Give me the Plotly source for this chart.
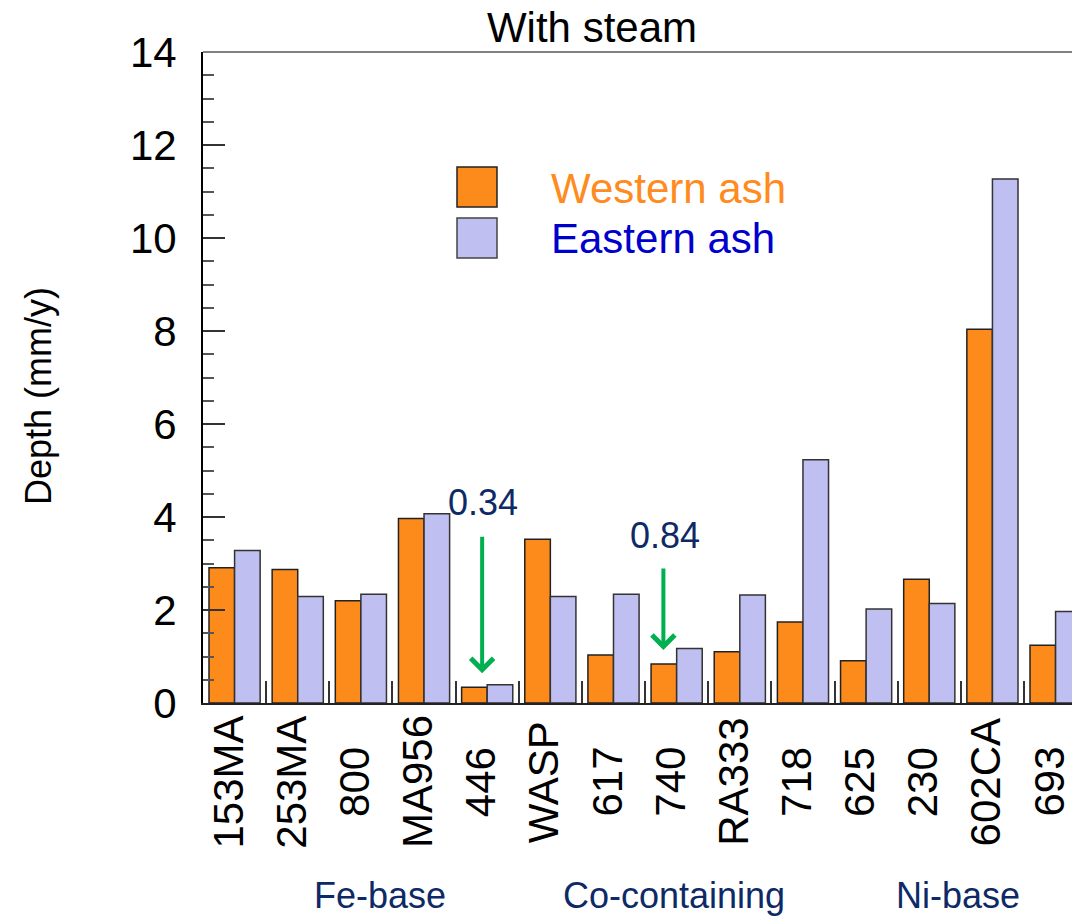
import plotly.graph_objects as go

# Alloy categories and corrosion depth (mm/y) with steam
alloys = ["153MA", "253MA", "800", "MA956", "446", "WASP", "617", "740",
          "RA333", "718", "625", "230", "602CA", "693"]
western_ash = [2.91, 2.87, 2.20, 3.97, 0.34, 3.52, 1.03, 0.84, 1.10, 1.74, 0.91, 2.66, 8.04, 1.24]
eastern_ash = [3.28, 2.29, 2.34, 4.07, 0.39, 2.29, 2.34, 1.17, 2.32, 5.23, 2.02, 2.14, 11.27, 1.97]

y_ticks = [0, 2, 4, 6, 8, 10, 12, 14]

# Alloy families and the label position (in category units) under each group
groups = ["Fe-base", "Co-containing", "Ni-base"]
group_pos = [2.30, 6.95, 11.45]

# Called-out values: (alloy index, text, arrow x, arrow tip y, text x, text y, arrow length px)
callouts = [
    (4, "0.34", 3.92, 0.64, 3.93, 4.32, 138),
    (7, "0.84", 6.79, 1.14, 6.82, 3.61, 83),
]

FONT = "Liberation Sans, Arial, sans-serif"
ORANGE = "#FD8B1C"
LAVENDER = "#BFBFF1"
NAVY = "#0E2A66"
GREEN = "#00B050"

W, H = 1072, 921
ML, MT, MB, MR = 203, 52, 218, 0
PW, PH = W - ML - MR, H - MT - MB


def px_x(px):
    return (px - ML) / PW


def px_y(py):
    return (H - MB - py) / PH


idx = list(range(len(alloys)))

fig = go.Figure()
fig.add_trace(go.Bar(x=idx, y=western_ash, name="Western ash",
                     marker=dict(color=ORANGE, line=dict(color="#222222", width=1.5))))
fig.add_trace(go.Bar(x=idx, y=eastern_ash, name="Eastern ash",
                     marker=dict(color=LAVENDER, line=dict(color="#333333", width=1.5))))

annotations = []

# Category labels, rotated and centred under each bar pair
for i, a in zip(idx, alloys):
    annotations.append(dict(x=i, y=px_y(782), xref="x", yref="paper", text=a,
                            textangle=-90, showarrow=False, xanchor="center",
                            yanchor="middle", xshift=-7,
                            font=dict(family=FONT, size=42, color="black")))

# Group labels
for g, p in zip(groups, group_pos):
    annotations.append(dict(x=p, y=px_y(896), xref="x", yref="paper", text=g,
                            showarrow=False, xanchor="center", yanchor="middle",
                            font=dict(family=FONT, size=36, color=NAVY)))

# Value call-outs with green arrows
for _, txt, axx, tipy, tx, ty, alen in callouts:
    annotations.append(dict(x=axx, y=tipy, xref="x", yref="y", text="",
                            showarrow=True, arrowhead=4, arrowsize=1.1, arrowwidth=4,
                            arrowcolor=GREEN, ax=0, ay=-alen, standoff=0))
    annotations.append(dict(x=tx, y=ty, xref="x", yref="y", text=txt,
                            showarrow=False, xanchor="center", yanchor="middle",
                            font=dict(family=FONT, size=36, color=NAVY)))

# Legend text
annotations.append(dict(x=px_x(549), y=px_y(188), xref="paper", yref="paper",
                        text="Western ash", showarrow=False, xanchor="left",
                        yanchor="middle", font=dict(family=FONT, size=42, color="#FF8A1E")))
annotations.append(dict(x=px_x(549), y=px_y(238), xref="paper", yref="paper",
                        text="Eastern ash", showarrow=False, xanchor="left",
                        yanchor="middle", font=dict(family=FONT, size=42, color="#0000CC")))

# Y axis title
annotations.append(dict(x=px_x(38), y=px_y(396), xref="paper", yref="paper",
                        text="Depth (mm/y)", textangle=-90, showarrow=False,
                        xanchor="center", yanchor="middle",
                        font=dict(family=FONT, size=36, color="black")))

shapes = [
    # legend swatches
    dict(type="rect", xref="paper", yref="paper", x0=px_x(457), x1=px_x(497),
         y0=px_y(207), y1=px_y(167), fillcolor=ORANGE,
         line=dict(color="#222222", width=1.5)),
    dict(type="rect", xref="paper", yref="paper", x0=px_x(457), x1=px_x(497),
         y0=px_y(258), y1=px_y(218), fillcolor=LAVENDER,
         line=dict(color="#444444", width=1.5)),
    # top frame line
    dict(type="line", xref="paper", yref="paper", x0=0, x1=1, y0=1, y1=1,
         line=dict(color="#808080", width=2)),
]

fig.update_layout(
    width=W, height=H,
    margin=dict(l=ML, r=MR, t=MT, b=MB),
    paper_bgcolor="white", plot_bgcolor="white",
    barmode="group", bargap=0.19, bargroupgap=0,
    showlegend=False,
    title=dict(text="With steam", x=592 / W, xanchor="center", xref="container",
               y=1 - 27 / H, yanchor="middle", yref="container",
               font=dict(family=FONT, size=42, color="black")),
    annotations=annotations,
    shapes=shapes,
)

fig.update_xaxes(
    type="linear", range=[-0.5, 13.26], showticklabels=False,
    tickmode="array", tickvals=[i + 0.5 for i in idx[:-1]],
    ticks="inside", ticklen=22, tickwidth=2, tickcolor="#333333",
    showline=True, linecolor="#222222", linewidth=2, showgrid=False, zeroline=False,
)

fig.update_yaxes(
    range=[0, 14], tickvals=y_ticks, ticktext=[str(v) for v in y_ticks],
    ticks="inside", ticklen=22, tickwidth=2, tickcolor="#333333",
    minor=dict(dtick=0.5, ticks="inside", ticklen=11, tickwidth=2,
               tickcolor="#555555", showgrid=False),
    showline=True, linecolor="black", linewidth=2, showgrid=False, zeroline=False,
    tickfont=dict(family=FONT, size=42, color="black"), ticklabelstandoff=16,
)

fig.write_html("out.html")
